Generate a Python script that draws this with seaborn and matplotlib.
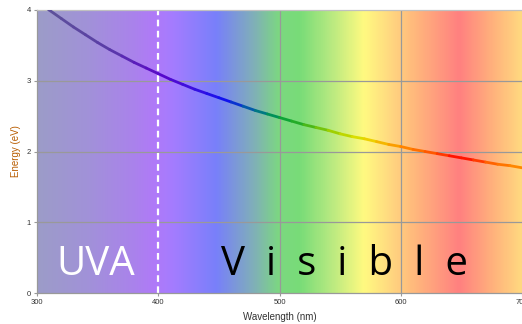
import numpy as np
import pandas as pd
import matplotlib
matplotlib.use("Agg")
import matplotlib.pyplot as plt
import seaborn as sns
from matplotlib.colors import LinearSegmentedColormap

# photon energy, every 10 nm
wavelength = [300, 310, 320, 330, 340, 350, 360, 370, 380, 390,
              400, 410, 420, 430, 440, 450, 460, 470, 480, 490,
              500, 510, 520, 530, 540, 550, 560, 570, 580, 590,
              600, 610, 620, 630, 640, 650, 660, 670, 680, 690, 700]
energy = [4.13, 4.00, 3.88, 3.76, 3.65, 3.54, 3.44, 3.35, 3.26, 3.18,
          3.10, 3.02, 2.95, 2.88, 2.82, 2.76, 2.70, 2.64, 2.58, 2.53,
          2.48, 2.43, 2.38, 2.34, 2.30, 2.25, 2.21, 2.18, 2.14, 2.10,
          2.07, 2.03, 2.00, 1.97, 1.94, 1.91, 1.88, 1.85, 1.82, 1.80, 1.77]

x_ticks = [300, 400, 500, 600, 700]
y_ticks = [0, 1, 2, 3, 4]
uv_edge = 400

# background band colours (wavelength stop, colour)
bg_stops = [(300, "#9c9cc8"), (340, "#a192d8"), (380, "#aa82ec"), (396, "#b07af8"),
            (412, "#a47cff"), (448, "#7880fa"), (479, "#80b0b8"), (500, "#7cd880"),
            (517, "#78dc78"), (540, "#b0e880"), (570, "#fffa80"), (592, "#ffd880"),
            (612, "#ffb87c"), (649, "#ff8080"), (676, "#ffb07c"), (700, "#ffd880")]
# colours of the energy curve
line_stops = [(300, "#5e5696"), (360, "#5a3ca8"), (400, "#5a08c8"), (430, "#3a10e0"),
              (455, "#1010f0"), (480, "#006a9a"), (500, "#00a040"), (520, "#30b020"),
              (545, "#a0d000"), (570, "#e8e000"), (600, "#ff9000"), (630, "#ff5000"),
              (650, "#ff0000"), (675, "#ff6000"), (700, "#ff9000")]


def make_cmap(stops, name):
    lo, hi = stops[0][0], stops[-1][0]
    return LinearSegmentedColormap.from_list(
        name, [((w - lo) / (hi - lo), c) for w, c in stops])


sns.set_style("white")
plt.rcParams["font.family"] = ["Liberation Sans", "DejaVu Sans"]

fig = plt.figure(figsize=(5.22, 3.24), dpi=100)
ax = fig.add_axes([37 / 522, 31 / 324, 485 / 522, 283 / 324])

bg_cmap = make_cmap(bg_stops, "bg")
ax.imshow(np.linspace(0, 1, 800)[None, :], cmap=bg_cmap, aspect="auto",
          extent=[300, 700, 0, 4], origin="lower", zorder=0, interpolation="bilinear")

# grid lines
for v in [1, 2, 3]:
    ax.axhline(v, color="#999999", lw=0.9, zorder=1)
for v in [500, 600]:
    ax.axvline(v, color="#999999", lw=0.9, zorder=1)

ax.axvline(uv_edge, color="white", lw=1.6, ls=(0, (3, 2)), zorder=2)

# coloured curve: one short segment per pair of points
line_cmap = make_cmap(line_stops, "line")
rows = []
for i in range(len(wavelength) - 1):
    for j in (i, i + 1):
        rows.append({"seg": i, "wl": wavelength[j], "E": energy[j]})
seg_df = pd.DataFrame(rows)
seg_colors = [line_cmap(((wavelength[i] + wavelength[i + 1]) / 2 - 300) / 400)
              for i in range(len(wavelength) - 1)]
sns.lineplot(data=seg_df, x="wl", y="E", hue="seg", palette=seg_colors,
             estimator=None, sort=False, legend=False, lw=2.0, ax=ax, zorder=3)

ax.text(348.5, 0.26, "UVA", color="white", fontsize=29, ha="center", va="baseline",
        family=["Open Sans", "DejaVu Sans"], zorder=4)
ax.text(452, 0.26, "V  i  s  i  b  l  e", color="black", fontsize=29, ha="left",
        va="baseline", family=["Open Sans", "DejaVu Sans"], zorder=4)

ax.set_xlim(300, 700)
ax.set_ylim(0, 4)
ax.set_xticks(x_ticks)
ax.set_yticks(y_ticks)
ax.tick_params(axis="both", labelsize=5.5, colors="#999999", labelcolor="#333333",
               length=2.5, width=0.8, pad=2, direction="out", left=True, bottom=True)
ax.set_xlabel("Wavelength (nm)", fontsize=7, color="#333333", labelpad=4)
ax.set_ylabel("Energy (eV)", fontsize=7, color="#b85c00", labelpad=4)

for side in ["left", "bottom"]:
    ax.spines[side].set_color("#999999")
    ax.spines[side].set_linewidth(0.9)
ax.spines["top"].set_color("#c0c0c0")
ax.spines["top"].set_linewidth(0.9)
ax.spines["right"].set_visible(False)

fig.savefig("out.png", dpi=100)
